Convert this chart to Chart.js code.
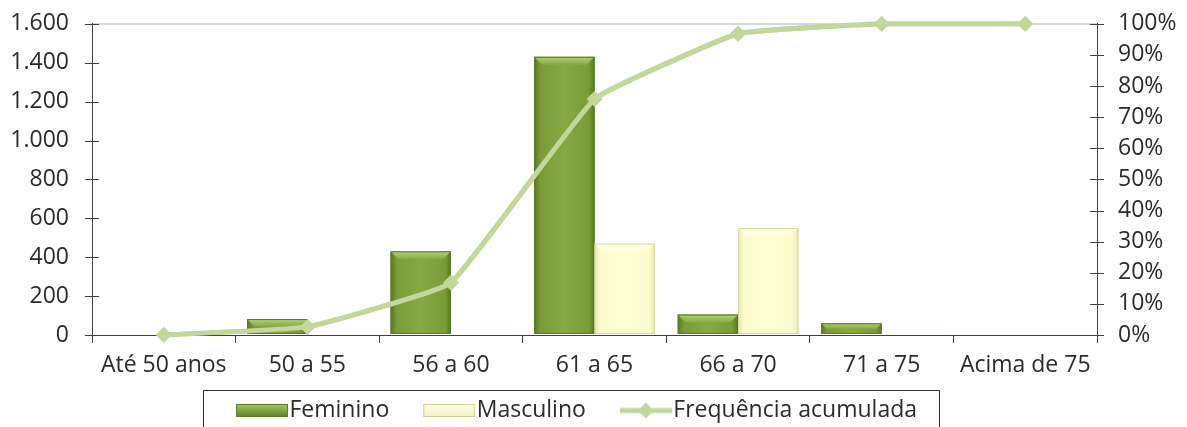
<!DOCTYPE html>
<html>
<head>
<meta charset="utf-8">
<script src="https://cdn.jsdelivr.net/npm/chart.js@4.4.1/dist/chart.umd.min.js"></script>
<style>
  html, body { margin: 0; padding: 0; background: #fff; }
  #wrap { width: 1187px; height: 427px; }
</style>
</head>
<body>
<div id="wrap"><canvas id="grafico"></canvas></div>
<script>
/* dados */
const categorias = ["Até 50 anos", "50 a 55", "56 a 60", "61 a 65", "66 a 70", "71 a 75", "Acima de 75"];
const feminino = [0, 82, 430, 1430, 105, 60, 0];
const masculino = [0, 0, 4, 470, 550, 4, 0];
const freqAcumulada = [0, 2.6, 16.8, 75.8, 96.8, 100, 100];

const FONTE = "'Open Sans', 'DejaVu Sans', sans-serif";
const TAM = 23;
const COR_TEXTO = "#2b2b2b";
const COR_EIXO = "#404040";
const COR_LINHA = "#c3d69b";
const DESLOC_LEGENDA = 30;

function formatoMilhar(v) {
    return String(v).replace(/\B(?=(\d{3})+(?!\d))/g, ".");
}

/* ícones da legenda: 88px de largura, parte visível à direita (36..88) */
function iconeBarra(escuro, claro, borda) {
    const c = document.createElement("canvas");
    c.width = 88; c.height = 13;
    const g = c.getContext("2d");
    const grad = g.createLinearGradient(0, 0, 0, 13);
    grad.addColorStop(0, claro);
    grad.addColorStop(1, escuro);
    g.fillStyle = grad;
    g.fillRect(36, 0, 52, 13);
    g.strokeStyle = borda;
    g.strokeRect(36.5, 0.5, 51, 12);
    return c;
}
function iconeLinha() {
    const c = document.createElement("canvas");
    c.width = 88; c.height = 18;
    const g = c.getContext("2d");
    g.strokeStyle = COR_LINHA;
    g.lineWidth = 5;
    g.beginPath(); g.moveTo(36, 9); g.lineTo(88, 9); g.stroke();
    g.fillStyle = COR_LINHA;
    g.beginPath(); g.moveTo(62, 1); g.lineTo(70, 9); g.lineTo(62, 17); g.lineTo(54, 9); g.closePath(); g.fill();
    return c;
}
const icones = [
    iconeBarra("#5e7e28", "#a6c765", "#5e7e28"),
    iconeBarra("#f2f2c0", "#ffffee", "#cfcf9a"),
    iconeLinha()
];

/* acabamento em relevo das barras (usa posições dos elementos do Chart.js) */
const relevoBarras = {
    id: "relevoBarras",
    afterDatasetsDraw(chart) {
        const ctx = chart.ctx;
        [0, 1].forEach(di => {
            const meta = chart.getDatasetMeta(di);
            meta.data.forEach(bar => {
                const p = bar.getProps(["x", "y", "base", "width"], true);
                const h = p.base - p.y;
                if (h < 1) return;
                const l = p.x - p.width / 2, r = p.x + p.width / 2;
                const grad = ctx.createLinearGradient(l, 0, r, 0);
                let topo;
                if (di === 0) {
                    grad.addColorStop(0, "#587723");
                    grad.addColorStop(0.1, "#7a9c38");
                    grad.addColorStop(0.5, "#86a944");
                    grad.addColorStop(0.9, "#7a9c38");
                    grad.addColorStop(1, "#587723");
                    topo = ["#b3d175", "#86a944"];
                } else {
                    grad.addColorStop(0, "#e9e9b6");
                    grad.addColorStop(0.1, "#fbfbcc");
                    grad.addColorStop(0.5, "#ffffd6");
                    grad.addColorStop(0.9, "#fbfbcc");
                    grad.addColorStop(1, "#e9e9b6");
                    topo = ["#ffffef", "#ffffd6"];
                }
                ctx.save();
                ctx.fillStyle = grad;
                ctx.fillRect(l, p.y, p.width, h);
                const bh = Math.min(8, h / 2);
                const tg = ctx.createLinearGradient(0, p.y, 0, p.y + bh);
                tg.addColorStop(0, topo[0]);
                tg.addColorStop(1, topo[1]);
                ctx.fillStyle = tg;
                ctx.beginPath();
                ctx.moveTo(l, p.y); ctx.lineTo(r, p.y);
                ctx.lineTo(r - bh, p.y + bh); ctx.lineTo(l + bh, p.y + bh);
                ctx.closePath(); ctx.fill();
                ctx.strokeStyle = di === 0 ? "#5a7a25" : "#d6d6a2";
                ctx.lineWidth = 1;
                ctx.strokeRect(l + 0.5, p.y + 0.5, p.width - 1, h - 1);
                ctx.restore();
            });
        });
        // linha por cima das barras
        chart.getDatasetMeta(2).controller.draw();
    }
};

/* marcas cruzadas dos eixos verticais + caixa da legenda */
const detalhes = {
    id: "detalhes",
    afterUpdate(chart) {
        const lg = chart.legend;
        if (lg) { lg.left -= DESLOC_LEGENDA; lg.right -= DESLOC_LEGENDA; lg.top += 5; lg.bottom += 5; }
    },
    afterDraw(chart) {
        const ctx = chart.ctx;
        const area = chart.chartArea;
        ctx.save();
        ctx.strokeStyle = COR_EIXO;
        ctx.lineWidth = 1;
        ["y", "y1"].forEach(id => {
            const s = chart.scales[id];
            const x0 = id === "y" ? area.left : area.right;
            s.ticks.forEach((t, i) => {
                const py = Math.round(s.getPixelForTick(i)) + 0.5;
                ctx.beginPath();
                ctx.moveTo(x0 - 7, py);
                ctx.lineTo(x0 + 7, py);
                ctx.stroke();
            });
        });
        const lg = chart.legend;
        if (lg && lg.legendHitBoxes.length) {
            const hb = lg.legendHitBoxes;
            const ult = hb[hb.length - 1];
            const esq = hb[0].left - DESLOC_LEGENDA - 7;
            const dir = ult.left + ult.width - DESLOC_LEGENDA + 22;
            ctx.strokeStyle = "#303030";
            ctx.strokeRect(Math.round(esq) + 0.5, 390.5, Math.round(dir - esq), 60);
        }
        ctx.restore();
    }
};

new Chart(document.getElementById("grafico"), {
    data: {
        labels: categorias,
        datasets: [
            {
                type: "bar",
                label: "Feminino",
                data: feminino,
                backgroundColor: "#7a9c38",
                yAxisID: "y",
                order: 2,
                categoryPercentage: 0.84,
                barPercentage: 1.0
            },
            {
                type: "bar",
                label: "Masculino",
                data: masculino,
                backgroundColor: "#ffffd0",
                yAxisID: "y",
                order: 2,
                categoryPercentage: 0.84,
                barPercentage: 1.0
            },
            {
                type: "line",
                label: "Frequência acumulada",
                data: freqAcumulada,
                borderColor: COR_LINHA,
                backgroundColor: COR_LINHA,
                borderWidth: 5,
                pointStyle: "rectRot",
                pointRadius: 8,
                pointHoverRadius: 8,
                pointBorderWidth: 0,
                tension: 0.1,
                yAxisID: "y1",
                order: 1
            }
        ]
    },
    options: {
        responsive: true,
        maintainAspectRatio: false,
        animation: false,
        layout: { padding: { top: 20, left: 0, right: 0, bottom: 0 } },
        plugins: {
            tooltip: { enabled: false },
            legend: {
                position: "bottom",
                labels: {
                    usePointStyle: true,
                    pointStyleWidth: 68,
                    boxHeight: 18,
                    padding: 8,
                    color: COR_TEXTO,
                    font: { family: FONTE, size: TAM },
                    generateLabels(chart) {
                        return chart.data.datasets.map((ds, i) => ({
                            text: ds.label,
                            pointStyle: icones[i],
                            fillStyle: "transparent",
                            strokeStyle: "transparent",
                            lineWidth: 0,
                            fontColor: COR_TEXTO,
                            datasetIndex: i,
                            hidden: false
                        }));
                    }
                }
            }
        },
        scales: {
            x: {
                grid: {
                    offset: true,
                    drawOnChartArea: false,
                    tickLength: 8,
                    tickColor: COR_EIXO
                },
                border: { color: COR_EIXO },
                ticks: {
                    color: COR_TEXTO,
                    font: { family: FONTE, size: TAM },
                    padding: 9,
                    maxRotation: 0
                },
                afterFit(s) { s.height = 51; }
            },
            y: {
                position: "left",
                min: 0,
                max: 1600,
                ticks: {
                    stepSize: 200,
                    autoSkip: false,
                    color: COR_TEXTO,
                    font: { family: FONTE, size: TAM },
                    padding: 10,
                    callback: v => formatoMilhar(v)
                },
                grid: {
                    color: ctx => (ctx.tick && ctx.tick.value === 1600 ? "#d9d9d9" : "transparent"),
                    lineWidth: 2,
                    tickColor: "transparent",
                    tickLength: 13
                },
                border: { color: COR_EIXO },
                afterFit(s) { s.width = 92; }
            },
            y1: {
                position: "right",
                min: 0,
                max: 100,
                ticks: {
                    stepSize: 10,
                    autoSkip: false,
                    color: COR_TEXTO,
                    font: { family: FONTE, size: TAM },
                    padding: 10,
                    callback: v => v + "%"
                },
                grid: {
                    drawOnChartArea: false,
                    tickColor: "transparent",
                    tickLength: 11
                },
                border: { color: COR_EIXO },
                afterFit(s) { s.width = 90; }
            }
        }
    },
    plugins: [relevoBarras, detalhes]
});
</script>
</body>
</html>
